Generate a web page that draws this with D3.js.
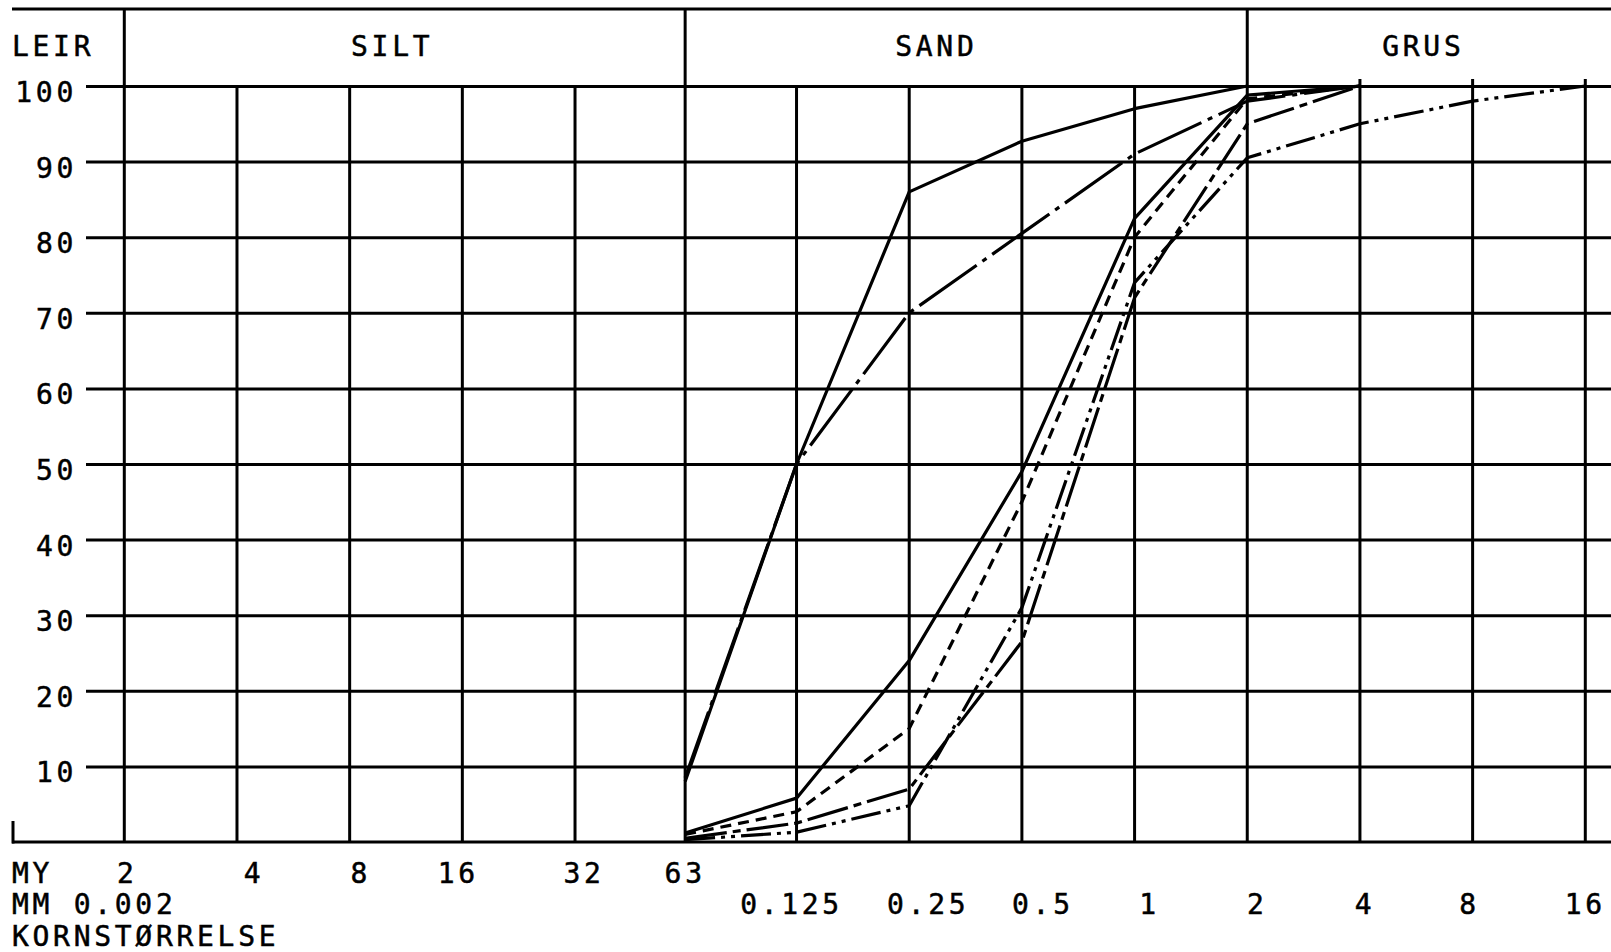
<!DOCTYPE html>
<html><head><meta charset="utf-8">
<script src="https://cdn.jsdelivr.net/npm/d3@7"></script>
<style>
html,body{margin:0;padding:0;background:#fff;}
svg text{font-family:"DejaVu Sans Mono","Liberation Mono",monospace;font-size:28px;fill:#000;stroke:#000;stroke-width:0.5px;letter-spacing:3.7px;}
</style></head><body>
<svg id="c" width="1611" height="952"></svg>
<script>
// ---------- DATA ----------
const sieveMM = [0.063, 0.125, 0.25, 0.5, 1, 2, 4, 8, 16];      // grain size (mm) of each point
const curveNames = ["A", "B", "C", "D", "E", "F"];
const curveA = [8, 50, 86, 92.7, 97, 100];                          // cumulative % passing
const curveB = [8.5, 50, 70, 80.5, 91, 98, 100];
const curveC = [1.2, 5.8, 24, 49, 82.5, 98.8, 100];
const curveD = [1.0, 4, 15, 45, 80, 98.3, 100];
const curveE = [0.5, 2.5, 7, 26.5, 72, 95, 100];
const curveF = [0.3, 1.3, 4.8, 31, 74, 90.5, 95, 98, 100];
const fractionNames = ["LEIR", "SILT", "SAND", "GRUS"];
const fractionBounds = [0.002, 0.063, 2];                            // mm
const myTicks = ["2", "4", "8", "16", "32", "63"];                  // micrometre labels
const myTickValues = [2, 4, 8, 16, 32, 63];
const mmTicks = ["0.125", "0.25", "0.5", "1", "2", "4", "8", "16"];
const mmTickValues = [0.125, 0.25, 0.5, 1, 2, 4, 8, 16];
const pctTicks = [10, 20, 30, 40, 50, 60, 70, 80, 90, 100];

// ---------- STYLE / LAYOUT ----------
const dashStyles = {A: null, B: "70,7,5,7", C: null, D: "11,7", E: "42,6,8,6", F: "30,6,4,6,4,6"};
const myLabelShift = [3, 17, 11, -4, 9, 0];
const mmLabelShift = [-5, 19, 21, 15, 10, 5, -3, 0];
const W = 1611;
const topY = 9, yBottomPx = 842, yTopPx = 86;
const x = d3.scaleLog().domain([0.002, 16]).range([124.3, 1585.3]);
const y = d3.scaleLinear().domain([0, 100]).range([yBottomPx, yTopPx]);
const svg = d3.select("#c");
const g = svg.append("g").attr("stroke", "#000").attr("stroke-width", 3).attr("fill", "none");

// top border
g.append("line").attr("x1", 12).attr("x2", W).attr("y1", topY).attr("y2", topY);
// bottom (0 %) line and corner
g.append("line").attr("x1", 12).attr("x2", W).attr("y1", y(0)).attr("y2", y(0));
g.append("line").attr("x1", 13).attr("x2", 13).attr("y1", y(0) - 21).attr("y2", y(0) + 1.5);

// horizontal grid via axis
const yAxis = d3.axisLeft(y).tickValues(pctTicks).tickSize(-(W - 86)).tickFormat("");
const ya = svg.append("g").attr("transform", `translate(86,0)`).call(yAxis);
ya.select(".domain").remove();
ya.selectAll(".tick line").attr("stroke", "#000").attr("stroke-width", 3);

// vertical grid
const allV = myTickValues.map(v => v / 1000).concat(mmTickValues);
allV.forEach(v => {
  const isBound = fractionBounds.some(b => Math.abs(b - v) / b < 0.02);
  const y1 = isBound ? topY : (v > 2 ? y(100) - 7 : y(100));
  g.append("line").attr("x1", x(v)).attr("x2", x(v)).attr("y1", y1).attr("y2", y(0));
});

// curves
const curves = {A: curveA, B: curveB, C: curveC, D: curveD, E: curveE, F: curveF};
const line = d3.line().x(d => x(d[0])).y(d => y(d[1]));
curveNames.forEach(n => {
  const pts = curves[n].map((v, i) => [sieveMM[i], v]);
  const p = g.append("path").attr("d", line(pts)).attr("stroke-width", 3.2)
    .attr("stroke-linejoin", "round");
  if (dashStyles[n]) p.attr("stroke-dasharray", dashStyles[n]);
});

// text
const t = svg.append("g");
// header
const headerCenters = [null, x(0.0102), x(0.29), x(5.8)];
fractionNames.forEach((s, i) => {
  const tx = t.append("text").attr("y", 56).text(s);
  if (i === 0) tx.attr("x", 12);
  else tx.attr("x", headerCenters[i] + 3).attr("text-anchor", "middle");
});
// y labels
pctTicks.forEach(v => {
  t.append("text").attr("x", 77).attr("y", y(v) + 16).attr("text-anchor", "end").text(v);
});
// bottom labels
t.append("text").attr("x", 12).attr("y", 883).text("MY");
myTicks.forEach((s, i) => {
  t.append("text").attr("x", x(myTickValues[i] / 1000) + myLabelShift[i]).attr("y", 883).attr("text-anchor", "middle").text(s);
});
t.append("text").attr("x", 12).attr("y", 914).text("MM 0.002");
mmTicks.forEach((s, i) => {
  t.append("text").attr("x", x(mmTickValues[i]) + mmLabelShift[i]).attr("y", 914).attr("text-anchor", "middle").text(s);
});
t.append("text").attr("x", 12).attr("y", 946).text("KORNSTØRRELSE");
</script>
</body></html>
